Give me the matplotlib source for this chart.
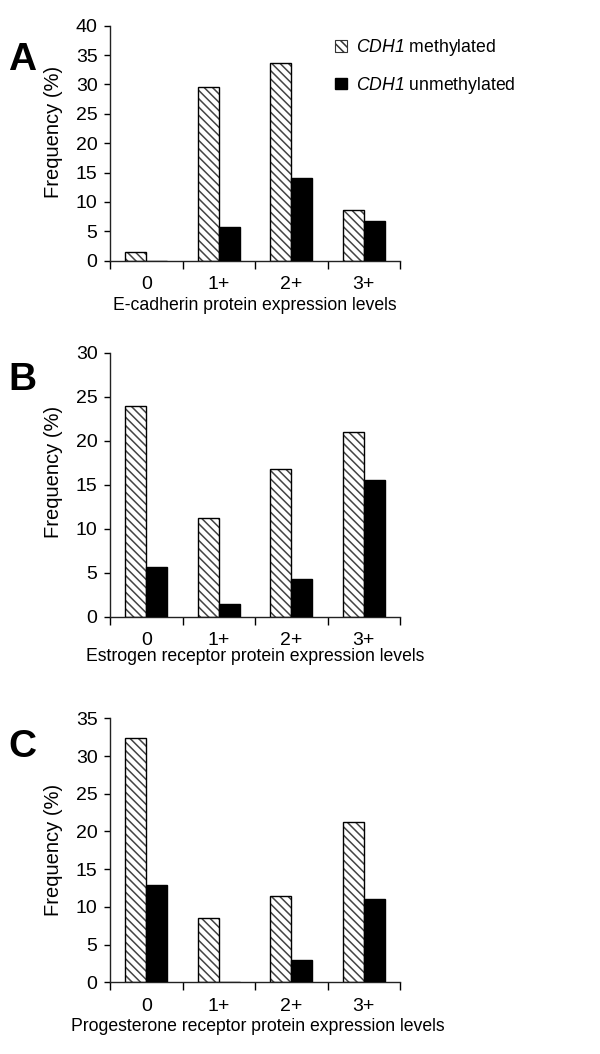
import matplotlib
matplotlib.use("Agg")
import matplotlib.pyplot as plt
import matplotlib.patches as mpatches
import numpy as np

plt.rcParams['font.family'] = ['Liberation Sans', 'DejaVu Sans']
plt.rcParams['mathtext.fontset'] = 'custom'
plt.rcParams['mathtext.it'] = 'Liberation Sans:italic'
plt.rcParams['mathtext.rm'] = 'Liberation Sans:italic'  # so the "1" in CDH1 is italic too
plt.rcParams['hatch.color'] = '#444444'
plt.rcParams['hatch.linewidth'] = 1.1

categories = ["0", "1+", "2+", "3+"]

ecad_meth = [1.4, 29.6, 33.7, 8.6]
ecad_unmeth = [0.0, 5.8, 14.1, 6.8]

er_meth = [23.9, 11.2, 16.8, 21.0]
er_unmeth = [5.6, 1.4, 4.3, 15.5]

pr_meth = [32.4, 8.5, 11.4, 21.3]
pr_unmeth = [12.9, 0.0, 3.0, 11.1]

panels = [
	("A", ecad_meth, ecad_unmeth, 40, "E-cadherin protein expression levels"),
	("B", er_meth, er_unmeth, 30, "Estrogen receptor protein expression levels"),
	("C", pr_meth, pr_unmeth, 35, "Progesterone receptor protein expression levels"),
]

W, H = 600, 1054
# axes boxes in pixels: (left, top, right, bottom)
boxes = [(110, 25.7, 400, 260.7), (110, 352.7, 400, 616.7), (110, 718.3, 400, 982.3)]
letter_y = [60, 380, 747]
ylabel_y = [131.7, 472, 850]
xlabel_cx = [255, 255, 258]
xlabel_gap = [36, 31, 36]

fig = plt.figure(figsize=(W / 100, H / 100), dpi=100)

bw = 0.29
x = np.arange(len(categories))
for i, ((letter, meth, unmeth, ymax, xlabel), (l, t, r, b)) in enumerate(zip(panels, boxes)):
	ax = fig.add_axes([l / W, 1 - b / H, (r - l) / W, (b - t) / H])
	ax.bar(x - bw / 2, meth, bw, color='white', hatch='\\\\\\\\', zorder=2)
	ax.bar(x - bw / 2, meth, bw, fill=False, edgecolor='black', linewidth=1.0, zorder=3)
	ax.bar(x + bw / 2, unmeth, bw, color='black', edgecolor='black', linewidth=1.0, zorder=3)
	ax.set_xlim(-0.5, 3.5)
	ax.set_ylim(0, ymax)
	ax.set_yticks(np.arange(0, ymax + 1, 5))
	ax.set_xticks(np.arange(-0.5, 4, 1))
	ax.set_xticklabels([])
	ax.set_xticks(x, minor=True)
	ax.set_xticklabels(categories, minor=True, fontsize=14)
	ax.tick_params(axis='x', which='major', length=6, width=1, direction='out')
	ax.tick_params(axis='x', which='minor', length=0, pad=11)
	ax.tick_params(axis='y', length=4, width=1, pad=5, labelsize=14)
	for s in ['top', 'right']:
		ax.spines[s].set_visible(False)
	for s in ['left', 'bottom']:
		ax.spines[s].set_linewidth(1.0)
		ax.spines[s].set_color('#222222')
	ax.set_ylabel("Frequency (%)", fontsize=14.5)
	ax.yaxis.set_label_coords((63 - l) / (r - l), (b - ylabel_y[i]) / (b - t))
	ax.set_xlabel(xlabel, fontsize=12.7)
	ax.xaxis.set_label_coords((xlabel_cx[i] - l) / (r - l), -xlabel_gap[i] / (b - t))
	fig.text(22 / W, 1 - letter_y[i] / H, letter, fontsize=28, fontweight='bold', ha='center', va='center')
	if letter == "A":
		handles = [
			mpatches.Patch(facecolor='white', edgecolor='#333333', hatch='\\\\\\\\', linewidth=0.8),
			mpatches.Patch(facecolor='black', edgecolor='black'),
		]
		labels = [r"$CDH1$ methylated", r"$CDH1$ unmethylated"]
		fig.legend(handles, labels, loc='upper left', bbox_to_anchor=(335 / W, 1 - 37 / H),
			frameon=False, fontsize=12.7, handlelength=0.7, handleheight=0.65,
			handletextpad=0.5, labelspacing=0.95, borderpad=0, borderaxespad=0)

fig.savefig("out.png", dpi=100)
